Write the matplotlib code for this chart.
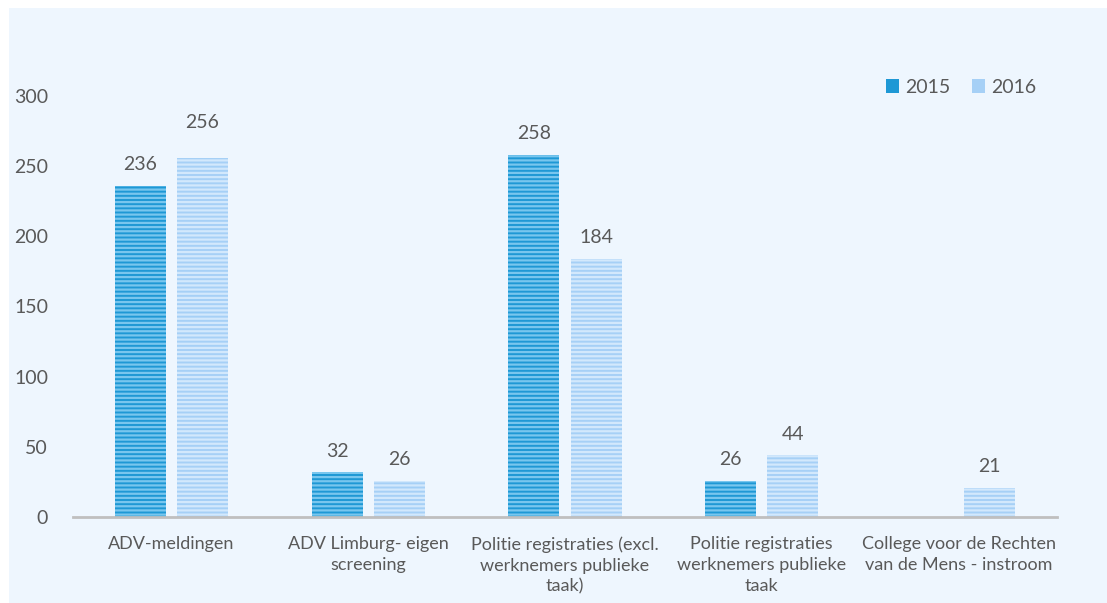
import numpy as np
import matplotlib.pyplot as plt
from matplotlib.patches import Rectangle

# data
categories = ["ADV-meldingen",
              "ADV Limburg- eigen\nscreening",
              "Politie registraties (excl.\nwerknemers publieke\ntaak)",
              "Politie registraties\nwerknemers publieke\ntaak",
              "College voor de Rechten\nvan de Mens - instroom"]
values_2015 = [236, 32, 258, 26, np.nan]
values_2016 = [256, 26, 184, 44, 21]
series_names = ["2015", "2016"]

plt.rcParams['font.family'] = ['Lato', 'DejaVu Sans']
plt.rcParams['hatch.linewidth'] = 1.6
txt = '#595959'
bg = '#EEF6FE'

fig = plt.figure(figsize=(11.07, 6.03), dpi=100, facecolor='white')
# light panel behind the chart
fig.patches.append(Rectangle((9/1107, 0), 1, 1 - 8/603, transform=fig.transFigure,
                             facecolor=bg, edgecolor='none', zorder=-10))
ax = fig.add_axes([73/1107, 1 - 517/603, 984/1107, 421/603])
ax.set_facecolor(bg)

x = np.arange(len(categories))
w = 0.26
off = 0.158
styles = [('#1E98D5', '#78C6EE'), ('#A6D0F6', '#D2E8FC')]
# label nudge (excel moved the first 2016 label up)
extra = {(1, 0): 10}
for i, (vals, name) in enumerate(zip([values_2015, values_2016], series_names)):
    base, stripe = styles[i]
    pos = x - off if i == 0 else x + off
    ax.bar(pos, vals, w, color=base, edgecolor='none', label=name)
    ax.bar(pos, vals, w, facecolor='none', edgecolor=stripe, hatch='----', linewidth=0)
    for j, (p, v) in enumerate(zip(pos, vals)):
        if not np.isnan(v):
            ax.annotate(str(int(v)), (p, v), xytext=(0, 9 + extra.get((i, j), 0)),
                        textcoords='offset points',
                        ha='center', va='bottom', fontsize=14, color=txt)

ax.set_ylim(0, 300)
ax.set_xlim(-0.5, len(categories) - 0.5)
ax.set_yticks(range(0, 301, 50))
ax.set_xticks(x)
ax.set_xticklabels(categories, fontsize=13, color=txt, linespacing=1.35)
ax.tick_params(axis='y', length=0, pad=18, labelsize=14, labelcolor=txt)
ax.tick_params(axis='x', length=0, pad=14)
for s in ['top', 'right', 'left']:
    ax.spines[s].set_visible(False)
ax.spines['bottom'].set_color('#BFBFBF')
ax.spines['bottom'].set_linewidth(2)

h, l = ax.get_legend_handles_labels()
leg = fig.legend(h, l, loc='center', bbox_to_anchor=(961/1107, 1 - 87/603), ncol=2,
                 frameon=False, fontsize=14, handlelength=0.7, handleheight=0.7,
                 handletextpad=0.3, columnspacing=1.1)
for t in leg.get_texts():
    t.set_color(txt)

fig.savefig('out.png', dpi=100, facecolor='white')
